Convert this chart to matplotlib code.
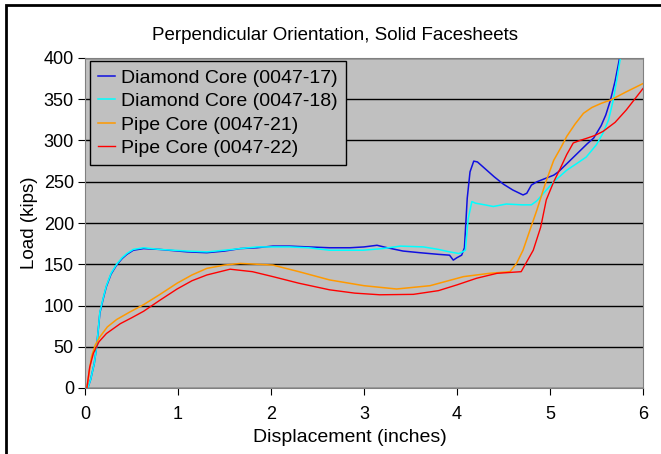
import matplotlib.pyplot as plt
from matplotlib.patches import Rectangle

plt.rcParams['font.family'] = ['Liberation Sans', 'DejaVu Sans']

# Diamond Core (0047-17)
d17_x = [0.03, 0.06, 0.10, 0.125, 0.16, 0.20, 0.23, 0.28, 0.34, 0.40, 0.45, 0.52, 0.63, 0.80,
         0.95, 1.10, 1.31, 1.50, 1.67, 1.85, 2.02, 2.20, 2.40, 2.63, 2.85, 3.00, 3.14, 3.25,
         3.42, 3.60, 3.80, 3.92, 3.96, 4.00, 4.05, 4.08, 4.11, 4.14, 4.18, 4.22, 4.30, 4.40,
         4.50, 4.60, 4.71, 4.75, 4.80, 4.86, 4.95, 5.04, 5.09, 5.20, 5.30, 5.40, 5.47, 5.55,
         5.60, 5.65, 5.70, 5.75]
d17_y = [0, 10, 30, 50, 91, 110, 123, 138, 149, 157, 162, 167, 169, 168,
         166.5, 165, 164, 166, 169, 170, 172, 172, 171, 170, 170, 171, 173, 170,
         166, 164, 162, 161, 155, 158, 161, 170, 230, 262, 275, 274, 266, 256,
         247, 240, 234, 236, 246, 250, 254, 258, 262, 274, 285, 296, 303, 318,
         331, 349, 372, 401]

# Diamond Core (0047-18)
d18_x = [0.03, 0.06, 0.10, 0.125, 0.16, 0.20, 0.23, 0.28, 0.34, 0.40, 0.45, 0.52, 0.63, 0.80,
         0.95, 1.10, 1.31, 1.50, 1.67, 1.85, 2.02, 2.20, 2.40, 2.63, 2.80, 2.99, 3.20, 3.39,
         3.64, 3.80, 3.92, 4.02, 4.06, 4.09, 4.12, 4.16, 4.20, 4.30, 4.39, 4.53, 4.70, 4.80,
         4.86, 4.93, 5.04, 5.18, 5.30, 5.39, 5.50, 5.57, 5.63, 5.68, 5.72, 5.76]
d18_y = [0, 10, 30, 50, 92, 111, 124, 139, 150, 158, 163, 168, 170, 168,
         167, 166, 165, 167, 169, 171, 171, 171, 170, 167, 167, 167, 169, 172,
         171, 168, 165, 163, 165, 167, 205, 226, 224, 222, 220, 223, 222, 222,
         227, 236, 250, 264, 273, 280, 295, 309, 325, 349, 375, 402]

# Pipe Core (0047-21)
p21_x = [0.02, 0.07, 0.11, 0.16, 0.24, 0.34, 0.48, 0.63, 0.80, 0.99, 1.15, 1.31, 1.50, 1.67,
         1.85, 2.02, 2.30, 2.63, 3.00, 3.35, 3.71, 4.07, 4.35, 4.57, 4.64, 4.71, 4.78, 4.86,
         4.95, 5.04, 5.12, 5.18, 5.27, 5.36, 5.45, 5.55, 5.65, 5.82, 6.00]
p21_y = [0, 38, 52, 62, 74, 83, 92, 101, 113, 127, 137, 145, 149, 151,
         150, 149, 141, 131, 124, 120, 124, 135, 139, 141, 151, 167, 190, 216,
         248, 276, 292, 305, 320, 333, 340, 345, 349, 359, 369]

# Pipe Core (0047-22)
p22_x = [0.02, 0.05, 0.09, 0.15, 0.23, 0.38, 0.50, 0.63, 0.80, 0.99, 1.15, 1.31, 1.56, 1.80,
         2.02, 2.30, 2.63, 2.90, 3.17, 3.53, 3.80, 4.00, 4.21, 4.43, 4.69, 4.75, 4.82, 4.90,
         4.96, 5.04, 5.11, 5.18, 5.25, 5.32, 5.39, 5.48, 5.57, 5.70, 5.82, 6.00]
p22_y = [0, 25, 42, 56, 66, 78, 85, 93, 106, 120, 130, 137, 144, 141,
         135, 127, 119, 115, 113, 113.5, 118, 125, 133, 139, 141, 153, 167, 195,
         228, 250, 266, 283, 297, 300, 302.5, 306, 311, 322, 337, 363]

fig = plt.figure(figsize=(6.61, 4.54), dpi=100)
ax = fig.add_axes([85 / 661, 1 - 388 / 454, 558 / 661, 330 / 454])
ax.set_facecolor('#C0C0C0')

ax.plot(d17_x, d17_y, color='#1010E0', lw=1.1, label='Diamond Core (0047-17)')
ax.plot(d18_x, d18_y, color='#00FFFF', lw=1.1, label='Diamond Core (0047-18)')
ax.plot(p21_x, p21_y, color='#FF9900', lw=1.1, label='Pipe Core (0047-21)')
ax.plot(p22_x, p22_y, color='#FF0000', lw=1.0, label='Pipe Core (0047-22)')

ax.set_xlim(0, 6)
ax.set_ylim(0, 400)
ax.set_xticks(range(0, 7))
ax.set_yticks(range(0, 401, 50))
ax.yaxis.grid(True, color='black', lw=1)
ax.set_axisbelow(True)
for s in ax.spines.values():
    s.set_color('#808080')
ax.tick_params(labelsize=13, length=5, color='black', pad=3)
ax.tick_params(axis='x', pad=8)

ax.set_xlabel('Displacement (inches)', fontsize=14)
ax.set_ylabel('Load (kips)', fontsize=13.5)
ax.xaxis.set_label_coords((350 - 85) / 558, -(437 - 388) / 330)
ax.yaxis.set_label_coords(-(85 - 30) / 558, 0.5)
ax.xaxis.label.set_va('center')
ax.yaxis.label.set_va('center')
fig.text(335 / 661, 1 - 35 / 454, 'Perpendicular Orientation, Solid Facesheets',
         fontsize=13.5, ha='center', va='center')

leg = ax.legend(loc='upper left', fontsize=14, frameon=True, fancybox=False,
                facecolor='#C0C0C0', edgecolor='black', handlelength=0.9,
                handletextpad=0.3, borderpad=0.4, labelspacing=0.3,
                bbox_to_anchor=(0.009, 0.99), borderaxespad=0)
leg.get_frame().set_linewidth(1.0)
leg.get_frame().set_alpha(None)

fig.patches.append(Rectangle((6 / 661, -0.1), 1.2, 1 - 5 / 454 + 0.1,
                             transform=fig.transFigure, fill=False,
                             edgecolor='black', lw=2))

fig.savefig('out.png', dpi=100)
